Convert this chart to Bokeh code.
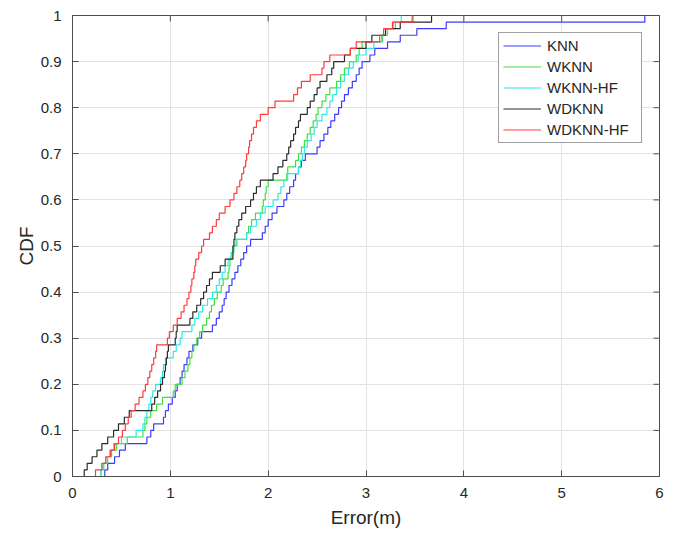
from bokeh.plotting import figure
from bokeh.models import FixedTicker, Range1d, Legend, LegendItem
from bokeh.embed import file_html
from bokeh.resources import INLINE

# ---- data: sorted localisation errors (m) per method, read from the CDF ----
knn = [0.33, 0.36, 0.43, 0.48, 0.54, 0.76, 0.80, 0.83, 0.93, 0.95,
       0.98, 1.02, 1.05, 1.07, 1.10, 1.12, 1.14, 1.17, 1.19, 1.23,
       1.28, 1.32, 1.43, 1.47, 1.50, 1.53, 1.55, 1.57, 1.60, 1.63,
       1.66, 1.69, 1.72, 1.75, 1.78, 1.82, 1.94, 1.97, 2.00, 2.04,
       2.09, 2.16, 2.19, 2.22, 2.26, 2.28, 2.31, 2.34, 2.38, 2.50,
       2.53, 2.57, 2.61, 2.64, 2.68, 2.72, 2.75, 2.78, 2.82, 2.86,
       2.90, 2.93, 2.96, 3.04, 3.09, 3.22, 3.35, 3.52, 3.82, 5.85]
wknn = [0.29, 0.32, 0.36, 0.40, 0.45, 0.56, 0.72, 0.74, 0.76, 0.80,
        0.86, 0.92, 1.03, 1.05, 1.12, 1.15, 1.18, 1.20, 1.22, 1.24,
        1.27, 1.30, 1.33, 1.37, 1.40, 1.42, 1.45, 1.48, 1.52, 1.54,
        1.59, 1.60, 1.61, 1.63, 1.65, 1.68, 1.78, 1.80, 1.83, 1.87,
        1.94, 1.95, 1.97, 1.98, 2.00, 2.19, 2.20, 2.28, 2.31, 2.34,
        2.37, 2.40, 2.43, 2.46, 2.49, 2.51, 2.55, 2.59, 2.63, 2.70,
        2.74, 2.78, 2.83, 2.90, 2.93, 2.96, 3.17, 3.22, 3.30, 3.47]
wknn_hf = [0.29, 0.31, 0.34, 0.38, 0.42, 0.50, 0.65, 0.72, 0.74, 0.76,
           0.78, 0.80, 0.82, 0.85, 0.90, 0.92, 0.93, 0.95, 1.03, 1.06,
           1.10, 1.12, 1.22, 1.25, 1.29, 1.33, 1.38, 1.43, 1.47, 1.50,
           1.53, 1.56, 1.59, 1.62, 1.64, 1.67, 1.78, 1.82, 1.88, 1.92,
           1.97, 2.05, 2.10, 2.13, 2.16, 2.20, 2.31, 2.33, 2.35, 2.37,
           2.40, 2.44, 2.47, 2.50, 2.55, 2.60, 2.63, 2.66, 2.70, 2.74,
           2.78, 2.82, 2.87, 2.92, 3.00, 3.08, 3.16, 3.22, 3.28, 3.36]
wdknn = [0.12, 0.15, 0.20, 0.25, 0.30, 0.36, 0.42, 0.47, 0.53, 0.58,
         0.81, 0.84, 0.87, 0.90, 0.92, 0.94, 0.95, 0.96, 0.97, 0.98,
         1.05, 1.06, 1.07, 1.20, 1.23, 1.27, 1.31, 1.34, 1.37, 1.40,
         1.43, 1.51, 1.56, 1.64, 1.64, 1.65, 1.66, 1.68, 1.70, 1.73,
         1.77, 1.82, 1.85, 1.88, 1.92, 2.05, 2.10, 2.15, 2.19, 2.21,
         2.23, 2.26, 2.28, 2.31, 2.33, 2.40, 2.43, 2.47, 2.50, 2.53,
         2.60, 2.65, 2.67, 2.78, 2.84, 3.00, 3.06, 3.20, 3.35, 3.67]
wdknn_hf = [0.235, 0.30, 0.34, 0.39, 0.43, 0.47, 0.51, 0.54, 0.57, 0.60,
            0.64, 0.68, 0.72, 0.745, 0.77, 0.79, 0.81, 0.83, 0.85, 0.86,
            0.97, 0.99, 1.03, 1.07, 1.11, 1.14, 1.17, 1.19, 1.21, 1.22,
            1.24, 1.25, 1.26, 1.29, 1.32, 1.34, 1.40, 1.43, 1.47, 1.50,
            1.56, 1.61, 1.65, 1.68, 1.71, 1.73, 1.75, 1.77, 1.78, 1.80,
            1.81, 1.83, 1.85, 1.88, 1.92, 2.00, 2.07, 2.26, 2.30, 2.34,
            2.43, 2.55, 2.57, 2.63, 2.84, 2.90, 3.14, 3.18, 3.27, 3.48]

names = ["KNN", "WKNN", "WKNN-HF", "WDKNN", "WDKNN-HF"]
series = [knn, wknn, wknn_hf, wdknn, wdknn_hf]
colors = ["#3b3bff", "#3ee03e", "#2ee8e8", "#2b2b2b", "#ff3b3b"]

x_ticks = [0, 1, 2, 3, 4, 5, 6]
x_tick_labels = ["0", "1", "2", "3", "4", "5", "6"]
y_ticks = [0, 0.1, 0.2, 0.3, 0.4, 0.5, 0.6, 0.7, 0.8, 0.9, 1]
y_tick_labels = ["0", "0.1", "0.2", "0.3", "0.4", "0.5", "0.6", "0.7", "0.8", "0.9", "1"]
x_min, x_max = 0, 6
y_min, y_max = 0, 1

FONT = "Liberation Sans"
AX = "#4d4d4d"

p = figure(frame_width=587, frame_height=461,
           x_range=Range1d(x_min, x_max), y_range=Range1d(y_min, y_max),
           output_backend="svg", toolbar_location=None,
           min_border_left=72, min_border_top=15, min_border_bottom=56, min_border_right=10)

renderers = []
for vals, c in zip(series, colors):
    n = len(vals)
    xs = [vals[0]] + list(vals)
    ys = [0.0] + [(i + 1) / n for i in range(n)]
    r = p.step(xs, ys, mode="after", line_color=c, line_width=1.2)
    renderers.append(r)

# inside tick marks on the top and right edges of the box (MATLAB style)
p.scatter(x=x_ticks, y=[y_max] * len(x_ticks), marker="dash", angle=1.5707963,
          size=12, line_color=AX, line_width=1)
p.scatter(x=[x_max] * len(y_ticks), y=y_ticks, marker="dash",
          size=12, line_color=AX, line_width=1)

p.xaxis.ticker = FixedTicker(ticks=x_ticks)
p.yaxis.ticker = FixedTicker(ticks=y_ticks)
p.xaxis.major_label_overrides = {t: l for t, l in zip(x_ticks, x_tick_labels)}
p.yaxis.major_label_overrides = {t: l for t, l in zip(y_ticks, y_tick_labels)}
p.xaxis.axis_label = "Error(m)"
p.yaxis.axis_label = "CDF"

for ax in [p.xaxis[0], p.yaxis[0]]:
    ax.major_tick_in = 6
    ax.major_tick_out = 0
    ax.minor_tick_in = 0
    ax.minor_tick_out = 0
    ax.axis_line_color = AX
    ax.major_tick_line_color = AX
    ax.major_label_text_font = FONT
    ax.major_label_text_font_size = "15px"
    ax.major_label_text_color = "#262626"
    ax.axis_label_text_font = FONT
    ax.axis_label_text_font_size = "19px"
    ax.axis_label_text_font_style = "normal"
    ax.axis_label_text_color = "#262626"
p.xaxis.major_label_standoff = 11
p.yaxis.major_label_standoff = 11
p.xaxis.axis_label_standoff = 6
p.yaxis.axis_label_standoff = 1

p.grid.grid_line_color = "#e2e2e2"
p.grid.grid_line_width = 1
p.xgrid.ticker = FixedTicker(ticks=x_ticks)
p.ygrid.ticker = FixedTicker(ticks=y_ticks)
p.outline_line_color = AX
p.background_fill_color = "white"
p.border_fill_color = "white"

legend = Legend(items=[LegendItem(label=nm, renderers=[r]) for nm, r in zip(names, renderers)],
                location="top_right", margin=17, padding=4, spacing=4,
                glyph_width=38, glyph_height=17, label_height=17, label_width=90,
                label_standoff=6,
                label_text_font=FONT, label_text_font_size="15px", label_text_color="#262626",
                border_line_color="#404040", border_line_width=1, background_fill_alpha=1)
p.add_layout(legend, "center")

open("out.html", "w").write(file_html(p, INLINE))
